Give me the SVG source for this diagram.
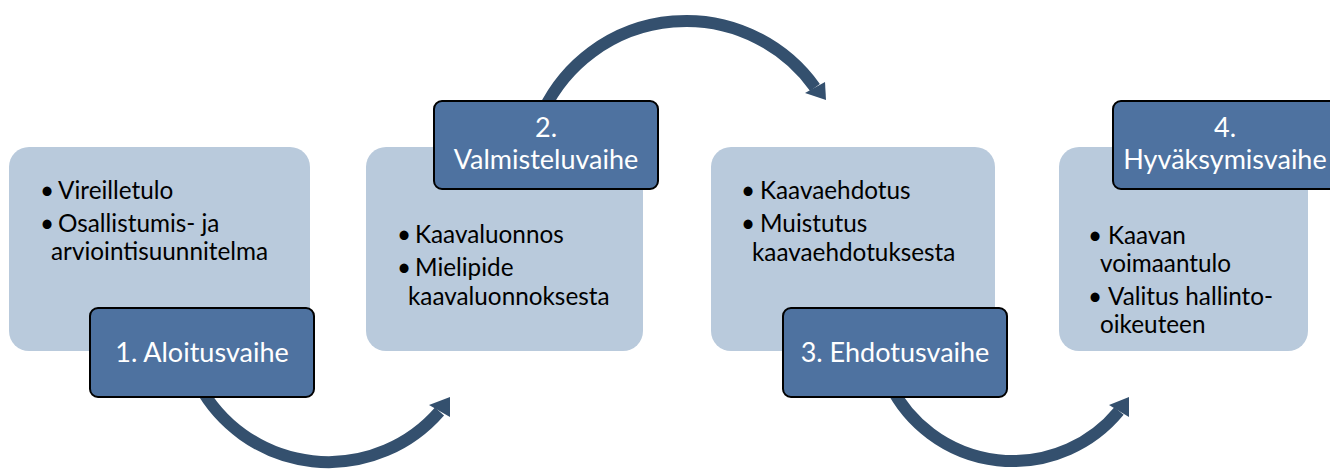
<svg xmlns="http://www.w3.org/2000/svg" width="1330" height="469" viewBox="0 0 1330 469">
<style>
.bg{fill:#B9CADC}
.hd{fill:#4E72A0;stroke:#000;stroke-width:2}
.ht{font-family:Lato,"Open Sans",sans-serif;font-size:27px;fill:#fff;text-anchor:middle}
.bt{font-family:Lato,"Open Sans",sans-serif;font-size:24.3px;fill:#000}
.arc{fill:none;stroke:#34506E;stroke-width:12}
.ah{fill:#34506E}
</style>
<rect width="1330" height="469" fill="#fff"/>
<g id="box1">
<rect class="bg" x="9" y="147" width="301" height="204" rx="20"/>
</g>
<g id="box2">
<rect class="bg" x="366" y="147" width="277" height="204" rx="20"/>
</g>
<g id="box3">
<rect class="bg" x="711" y="147" width="284" height="204" rx="20"/>
</g>
<g id="box4">
<rect class="bg" x="1059" y="147" width="249" height="204" rx="20"/>
</g>
<g id="connectors">
<path class="arc" d="M199.1,385 A147.1,147.1 0 0,0 439.5,411.5"/>
<polygon class="ah" points="429,405 450,397 450,417"/>
<path class="arc" d="M543.7,110 A158.3,158.3 0 0,1 815,87.5"/>
<polygon class="ah" points="805,93 825,82 826,100"/>
<path class="arc" d="M890.1,385 A137.3,137.3 0 0,0 1119,411"/>
<polygon class="ah" points="1109,405 1129,397 1129,417"/>
</g>
<g id="box1-text">
<text class="bt" x="40" y="199">•</text><text class="bt" x="58" y="199">Vireilletulo</text>
<text class="bt" x="40" y="232">•</text><text class="bt" x="58" y="232">Osallistumis- ja</text>
<text class="bt" x="51" y="260">arviointisuunnitelma</text>
</g>
<g id="box2-text">
<text class="bt" x="397" y="243">•</text><text class="bt" x="415" y="243">Kaavaluonnos</text>
<text class="bt" x="397" y="276">•</text><text class="bt" x="415" y="276">Mielipide</text>
<text class="bt" x="408" y="305">kaavaluonnoksesta</text>
</g>
<g id="box3-text">
<text class="bt" x="741" y="199">•</text><text class="bt" x="760" y="199">Kaavaehdotus</text>
<text class="bt" x="741" y="232">•</text><text class="bt" x="760" y="232">Muistutus</text>
<text class="bt" x="752" y="261">kaavaehdotuksesta</text>
</g>
<g id="box4-text">
<text class="bt" x="1088" y="244">•</text><text class="bt" x="1108" y="244">Kaavan</text>
<text class="bt" x="1100" y="272">voimaantulo</text>
<text class="bt" x="1088" y="305">•</text><text class="bt" x="1108" y="305">Valitus hallinto-</text>
<text class="bt" x="1100" y="333">oikeuteen</text>
</g>
<g id="stage1">
<rect class="hd" x="90" y="308" width="224" height="89" rx="8"/>
<text class="ht" x="202" y="362">1. Aloitusvaihe</text>
</g>
<g id="stage2">
<rect class="hd" x="434" y="101" width="224" height="88" rx="8"/>
<text class="ht" x="546" y="137">2.</text>
<text class="ht" x="546" y="169">Valmisteluvaihe</text>
</g>
<g id="stage3">
<rect class="hd" x="783" y="308" width="224" height="89" rx="8"/>
<text class="ht" x="895" y="362">3. Ehdotusvaihe</text>
</g>
<g id="stage4">
<rect class="hd" x="1113" y="101" width="224" height="88" rx="8"/>
<text class="ht" x="1225" y="137">4.</text>
<text class="ht" x="1225" y="169">Hyväksymisvaihe</text>
</g>
</svg>
